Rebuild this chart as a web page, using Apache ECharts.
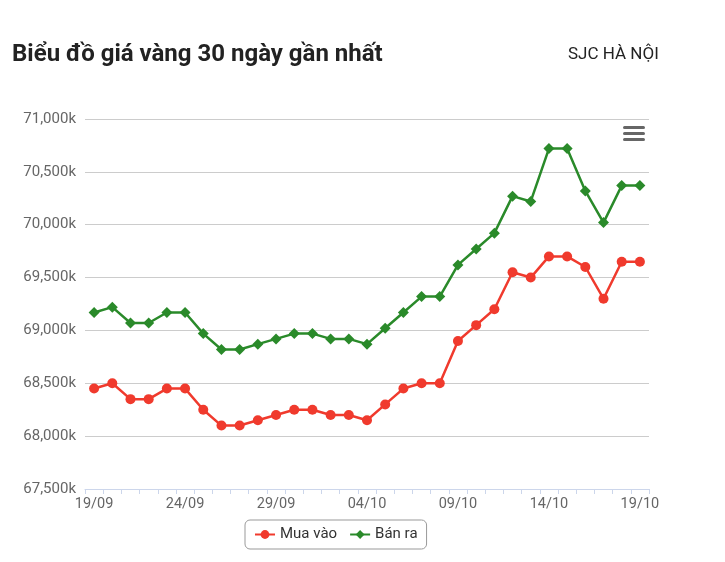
<!DOCTYPE html>
<html>
<head>
<meta charset="utf-8">
<script src="https://cdn.jsdelivr.net/npm/echarts@6/dist/echarts.min.js"></script>
<style>
html,body{margin:0;padding:0;background:#fff;}
#c{width:725px;height:562px;}
</style>
</head>
<body>
<div id="c"></div>
<script>
var categories = ['19/09','20/09','21/09','22/09','23/09','24/09','25/09','26/09','27/09','28/09','29/09','30/09',
  '01/10','02/10','03/10','04/10','05/10','06/10','07/10','08/10','09/10','10/10','11/10','12/10','13/10','14/10',
  '15/10','16/10','17/10','18/10','19/10'];
var muaVao = [68450,68500,68350,68350,68450,68450,68250,68100,68100,68150,68200,68250,68250,68200,68200,68150,
  68300,68450,68500,68500,68900,69050,69200,69550,69500,69700,69700,69600,69300,69650,69650];
var banRa = [69170,69220,69070,69070,69170,69170,68970,68820,68820,68870,68920,68970,68970,68920,68920,68870,
  69020,69170,69320,69320,69620,69770,69920,70270,70220,70720,70720,70320,70020,70370,70370];
var seriesNames = ['Mua vào','Bán ra'];
var titleText = 'Biểu đồ giá vàng 30 ngày gần nhất';
var subText = 'SJC HÀ NỘI';

var chart = echarts.init(document.getElementById('c'), null, {renderer:'canvas'});
var font = 'Roboto, "Noto Sans", sans-serif';
chart.setOption({
  animation:false,
  textStyle:{fontFamily:font},
  title:[
    {text:titleText,left:7,top:38,textStyle:{fontSize:24,fontWeight:'bold',color:'#222',fontFamily:font}},
    {text:subText,left:563,top:41,textStyle:{fontSize:17,fontWeight:'normal',color:'#222',fontFamily:font}}
  ],
  grid:{left:85,right:76,top:119,bottom:73,containLabel:false},
  legend:{
    data:seriesNames,left:245,top:520,
    borderColor:'#999',borderWidth:1,borderRadius:5,padding:[7,9,7,9],
    itemWidth:20,itemHeight:11,itemGap:12,
    textStyle:{fontSize:15,color:'#333',fontFamily:font}
  },
  xAxis:{
    type:'category',data:categories,boundaryGap:true,
    axisLine:{lineStyle:{color:'#ccd6eb',width:1}},
    axisTick:{show:true,interval:0,length:5,lineStyle:{color:'#ccd6eb'}},
    axisLabel:{interval:4,color:'#666',fontSize:14.5,margin:8,fontFamily:font},
    splitLine:{show:false}
  },
  yAxis:{
    type:'value',min:67500,max:71000,interval:500,
    axisLine:{show:false},axisTick:{show:false},
    splitLine:{lineStyle:{color:'#cccccc',width:1}},
    axisLabel:{color:'#666',fontSize:15,margin:9,fontFamily:font,
      formatter:function(v){return v.toString().replace(/\B(?=(\d{3})+(?!\d))/g,',')+'k';}}
  },
  graphic:[
    {type:'rect',shape:{x:623,y:126,width:22,height:3,r:1.5},style:{fill:'#666'}},
    {type:'rect',shape:{x:623,y:132,width:22,height:3,r:1.5},style:{fill:'#666'}},
    {type:'rect',shape:{x:623,y:138,width:22,height:3,r:1.5},style:{fill:'#666'}}
  ],
  series:[
    {name:seriesNames[0],type:'line',data:muaVao,symbol:'circle',symbolSize:10,
      itemStyle:{color:'#f03a2d'},lineStyle:{color:'#f03a2d',width:2.5}},
    {name:seriesNames[1],type:'line',data:banRa,symbol:'diamond',symbolSize:11,
      itemStyle:{color:'#2a8a2a'},lineStyle:{color:'#2a8a2a',width:2.5}}
  ]
});
</script>
</body>
</html>
